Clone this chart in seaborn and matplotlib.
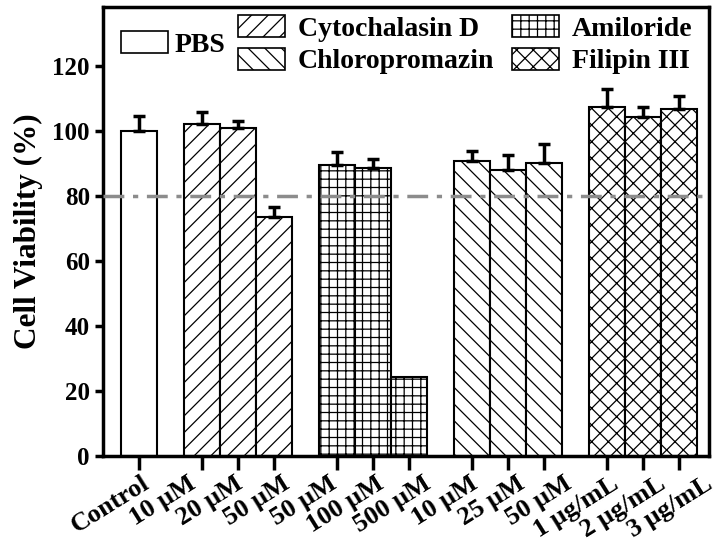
import matplotlib
matplotlib.use("Agg")
import matplotlib.pyplot as plt
from matplotlib.patches import Patch
from matplotlib.transforms import ScaledTranslation
import seaborn as sns
import numpy as np
import pandas as pd

# ---- data ----
tick_labels = ["Control", "10 μM", "20 μM", "50 μM", "50 μM", "100 μM", "500 μM",
               "10 μM", "25 μM", "50 μM", "1 μg/mL", "2 μg/mL", "3 μg/mL"]
groups = ["PBS", "Cytochalasin D", "Cytochalasin D", "Cytochalasin D",
          "Amiloride", "Amiloride", "Amiloride",
          "Chloropromazin", "Chloropromazin", "Chloropromazin",
          "Filipin III", "Filipin III", "Filipin III"]
viability = [100.0, 102.2, 101.1, 73.6, 89.7, 88.5, 24.4, 90.7, 88.1, 90.3, 107.3, 104.2, 106.8]
errors = [4.5, 3.7, 2.1, 3.1, 3.8, 2.8, 0.0, 3.2, 4.4, 5.7, 5.6, 3.1, 4.1]
positions = [0, 1.75, 2.75, 3.75, 5.5, 6.5, 7.5, 9.25, 10.25, 11.25, 13, 14, 15]
legend_order = ["PBS", "Cytochalasin D", "Chloropromazin", "Amiloride", "Filipin III"]
hatches = {"PBS": "", "Cytochalasin D": "//", "Amiloride": "++",
           "Chloropromazin": "\\\\", "Filipin III": "xx"}

df = pd.DataFrame({"pos": positions, "val": viability, "err": errors, "group": groups})

sns.set_theme(style="ticks")
plt.rcParams["font.family"] = ["Liberation Serif", "DejaVu Serif"]
plt.rcParams["font.weight"] = "bold"
plt.rcParams["axes.labelweight"] = "bold"
plt.rcParams["text.color"] = "black"
plt.rcParams["axes.labelcolor"] = "black"
plt.rcParams["xtick.color"] = "black"
plt.rcParams["ytick.color"] = "black"
plt.rcParams["hatch.linewidth"] = 0.9
plt.rcParams["hatch.color"] = "black"

fig = plt.figure(figsize=(7.16, 5.44), dpi=100)
ax = fig.add_axes([103/716, 88/544, (709-103)/716, (456-7)/544])

sns.barplot(data=df, x="pos", y="val", native_scale=True, color="white",
            edgecolor="black", linewidth=1.5, width=1.0, errorbar=None,
            saturation=1, ax=ax)

bars = sorted([p for p in ax.patches], key=lambda p: p.get_x())
for bar, g in zip(bars, groups):
    bar.set_facecolor("white")
    bar.set_edgecolor("black")
    bar.set_hatch(hatches[g])

has_err = df[df["err"] > 0]
ax.errorbar(has_err["pos"], has_err["val"],
            yerr=[np.zeros(len(has_err)), has_err["err"]],
            fmt="none", ecolor="black", elinewidth=2.5, capsize=4, capthick=2.5)

ax.axhline(80, color="#8c8c8c", lw=2.5, ls=(0, (6, 2.5, 1.5, 2.5)), zorder=3)

ax.set_xlim(-1.0, 15.83)
ax.set_ylim(0, 138.2)
ax.set_yticks([0, 20, 40, 60, 80, 100, 120])
ax.set_xticks(positions)
ax.set_xticklabels(tick_labels, rotation=32, ha="right", rotation_mode="anchor",
                   fontsize=19, fontweight="bold")
ax.tick_params(axis="y", labelsize=18, width=2.5, length=6, direction="out")
ax.tick_params(axis="x", width=2.5, length=10, direction="out", pad=1.5)
for lab in ax.get_yticklabels():
    lab.set_fontweight("bold")
for s in ax.spines.values():
    s.set_linewidth(2.5)
    s.set_color("black")
    s.set_visible(True)

# labels in the reference are evenly spaced along the axis rather than at the ticks
fig.canvas.draw()
xlabs = ax.get_xticklabels()
n = len(xlabs)
x0_px, x1_px = 141.0, 704.0
for i, lab in enumerate(xlabs):
    target = x0_px + (x1_px - x0_px) * i / (n - 1)
    tick_px = ax.transData.transform((positions[i], 0))[0]
    dx = (target - tick_px) / 100.0
    lab.set_transform(lab.get_transform() + ScaledTranslation(dx, 0, fig.dpi_scale_trans))

ax.set_xlabel("")
ax.set_ylabel("Cell Viability (%)", fontsize=22.5, fontweight="bold", labelpad=7)

def mk(g):
    return Patch(facecolor="white", edgecolor="black", hatch=hatches[g], linewidth=1.2, label=g)

prop = {"family": "Liberation Serif", "weight": "bold", "size": 20}
leg1 = fig.legend(handles=[mk("PBS")], loc="upper left",
                  bbox_to_anchor=(121/716, 1 - 31/544), frameon=False, prop=prop,
                  handlelength=1.7, handleheight=0.85, handletextpad=0.22,
                  borderpad=0, borderaxespad=0)
leg2 = fig.legend(handles=[mk(g) for g in legend_order[1:]], ncol=2, loc="upper left",
                  bbox_to_anchor=(238/716, 1 - 15/544), frameon=False, prop=prop,
                  handlelength=1.7, handleheight=0.85, handletextpad=0.45,
                  labelspacing=0.22, columnspacing=0.65, borderpad=0, borderaxespad=0)

fig.savefig("out.png", dpi=100)
